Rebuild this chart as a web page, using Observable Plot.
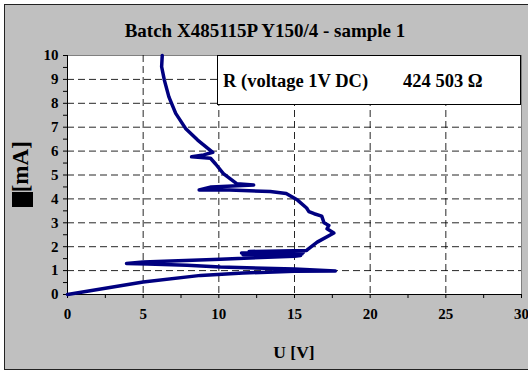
<!DOCTYPE html>
<html><head><meta charset="utf-8">
<script src="https://cdn.jsdelivr.net/npm/d3@7"></script>
<script src="https://cdn.jsdelivr.net/npm/@observablehq/plot@0.6"></script>
<style>
body{margin:0;background:#fff;}
#chart{position:relative;width:528px;height:371px;overflow:hidden;}
#bg{position:absolute;left:4px;top:4px;width:540px;height:366px;box-sizing:border-box;border:1px solid #222;background:#c0c0c0;}
#plot{position:absolute;left:0;top:0;}
#ann{position:absolute;left:0;top:0;}
</style>
</head><body>
<div id="chart"><div id="bg"></div><div id="plot"></div>
<svg id="ann" width="528" height="371" font-family="'Liberation Serif','Times New Roman',serif" font-weight="bold" fill="black">
<text x="265" y="37" text-anchor="middle" font-size="19">Batch X485115P Y150/4 - sample 1</text>
<rect x="217.5" y="55.5" width="303" height="49" fill="white" stroke="black"/>
<text x="223" y="87" font-size="18.5">R (voltage 1V DC)</text>
<text x="403" y="87" font-size="18.5">424 503 Ω</text>
<text x="294" y="358" text-anchor="middle" font-size="17.5">U [V]</text>
<rect x="12" y="192" width="21" height="15" fill="black"/>
<text transform="translate(28,207) rotate(-90)" font-size="23">I [mA]</text>
</svg>
</div>
<script>
// voltage U [V]
const U = [0, 5.0, 8.8, 11.6, 15.0, 17.7, 15.0, 10.1, 7.9, 5.3, 3.9, 5.0, 10.1, 15.0, 15.4,
  11.6, 15.5, 11.5, 15.6, 12.0, 15.8, 15.9, 16.5, 17.6, 17.15, 17.27, 16.95, 16.8, 16.3, 15.95,
  15.8, 15.2, 14.45, 13.4, 10.7, 8.7, 9.5, 12.3, 11.2, 10.3, 9.8, 9.45, 8.2, 9.0, 9.6,
  8.6, 7.8, 7.15, 6.7, 6.4, 6.22, 6.26];
// current I [mA]
const I = [0, 0.52, 0.80, 0.90, 0.97, 0.98, 1.07, 1.15, 1.22, 1.28, 1.30, 1.36, 1.48, 1.60, 1.63,
  1.66, 1.70, 1.74, 1.77, 1.80, 1.84, 1.90, 2.19, 2.57, 2.75, 2.89, 3.00, 3.28, 3.38, 3.47,
  3.62, 3.95, 4.23, 4.31, 4.37, 4.37, 4.50, 4.58, 4.63, 5.06, 5.45, 5.70, 5.76, 5.84, 5.95,
  6.46, 6.95, 7.58, 8.27, 8.97, 9.53, 10.0];
const xTicks = [0, 2.5, 5, 7.5, 10, 12.5, 15, 17.5, 20, 22.5, 25, 27.5, 30];
const yTicks = [0, 0.5, 1, 1.5, 2, 2.5, 3, 3.5, 4, 4.5, 5, 5.5, 6, 6.5, 7, 7.5, 8, 8.5, 9, 9.5, 10];
const xGrid = [5, 10, 15, 20, 25];
const yGrid = [1, 2, 3, 4, 5, 6, 7, 8, 9];

const rows = U.map((u, k) => ({u, i: I[k]}));
const font = "'Liberation Serif','Times New Roman',serif";
const chart = Plot.plot({
  width: 528, height: 371,
  marginLeft: 67, marginRight: 7, marginTop: 55, marginBottom: 77,
  style: {background: "transparent", fontFamily: font, fontWeight: "bold", fontSize: "15px", color: "black"},
  x: {domain: [0, 30]},
  y: {domain: [0, 10]},
  marks: [
    Plot.frame({fill: "white", stroke: "#808080"}),
    Plot.gridX(xGrid, {stroke: "black", strokeOpacity: 0.85, strokeDasharray: "7,4"}),
    Plot.gridY(yGrid, {stroke: "black", strokeOpacity: 0.85, strokeDasharray: "7,4"}),
    Plot.axisX(xTicks, {tickSize: 4, tickPadding: 10, label: null, fontSize: 15, fontWeight: "bold",
      tickFormat: d => (d % 5 === 0 ? String(d) : "")}),
    Plot.axisY(yTicks, {tickSize: 4, tickPadding: 5, label: null, fontSize: 15, fontWeight: "bold",
      tickFormat: d => (Number.isInteger(d) ? String(d) : "")}),
    Plot.ruleY([0], {stroke: "black"}),
    Plot.ruleX([0], {stroke: "black"}),
    Plot.line(rows, {x: "u", y: "i", stroke: "#000080", strokeWidth: 3.5, strokeLinejoin: "round", strokeLinecap: "round"})
  ]
});
document.getElementById("plot").appendChild(chart);
</script>
</body></html>
